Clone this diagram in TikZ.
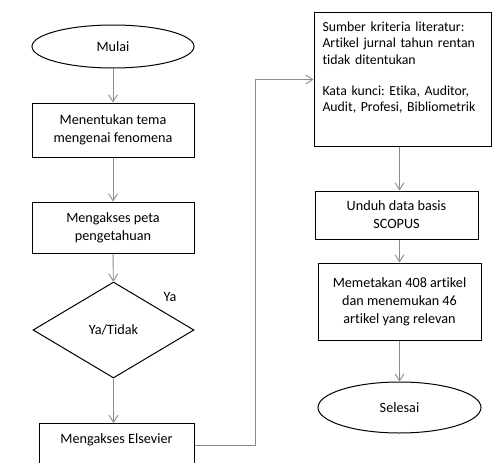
\documentclass[tikz,border=0pt]{standalone}
\usepackage{fontspec}
\setmainfont{Carlito}[Ligatures=NoCommon]
\usepackage{tikz}
\usetikzlibrary{shapes.geometric,arrows.meta}
\frenchspacing

\begin{document}
\begin{tikzpicture}[x=1pt, y=-1pt,
    every node/.style={font=\fontsize{14.2}{18}\selectfont},
    prosesbox/.style={draw=black, line width=1pt, rectangle, align=center, inner sep=0pt},
    terminal/.style={draw=black, line width=1pt, ellipse, inner sep=0pt},
    keputusan/.style={draw=black, line width=1pt, diamond, inner sep=0pt, aspect=1.68},
    line/.style={draw=black!45, line width=0.9pt, -{Straight Barb[length=7pt,width=9pt]}}]

      \clip (0, 0) rectangle (493, 463);

      \node[terminal, minimum width=162pt, minimum height=43pt] (mulai) at (113, 46.5) {Mulai};
      \node[prosesbox, minimum width=162pt, minimum height=54pt] (tema) at (113, 130) {Menentukan tema\\mengenai fenomena};
      \node[prosesbox, minimum width=162pt, minimum height=51pt] (peta) at (113, 227.5) {Mengakses peta\\pengetahuan};
      \node[keputusan, minimum width=161pt, minimum height=96pt] (pilih) at (113.5, 330) {Ya/Tidak};
      \node at (170, 297) (ya) {Ya};
      \node[prosesbox, anchor=north, minimum width=155pt, inner ysep=10pt] (elsevier) at (116.5, 423) {Mengakses Elsevier\rule[-30pt]{0pt}{1pt}};

      \node[prosesbox, anchor=north, text width=160pt, inner xsep=8.5pt, inner ysep=9pt, align=left,
            font=\fontsize{13.8}{16.5}\selectfont] (sumber) at (402.5, 12)
            {Sumber kriteria literatur:\\Artikel jurnal tahun rentan\\tidak ditentukan\\[14.5pt]
             Kata kunci: Etika, Auditor,\\\mbox{Audit, Profesi, Bibliometrik}\rule[-26pt]{0pt}{1pt}};
      \node[prosesbox, minimum width=163pt, minimum height=48pt] (unduh) at (396.5, 215) {Unduh data basis\\SCOPUS};
      \node[prosesbox, minimum width=163pt, minimum height=77pt] (petakan) at (399.5, 301.5) {Memetakan 408 artikel\\dan menemukan 46\\artikel yang relevan};
      \node[terminal, minimum width=163pt, minimum height=51pt] (selesai) at (399.5, 407.5) {Selesai};

      \draw[line] (mulai) -- (tema);
      \draw[line] (tema) -- (peta);
      \draw[line] (peta) -- (pilih);
      \draw[line] (pilih.south) -- (elsevier.north -| pilih.south);

      \coordinate (belok) at (255, 445);
      \draw[line] ([yshift=-22pt]elsevier.north east) -- (belok) |- (sumber.west);

      \draw[line] (sumber.south -| petakan) -- (unduh.north -| petakan);
      \draw[line] (unduh.south -| petakan) -- (petakan.north);
      \draw[line] (petakan) -- (selesai);
    \end{tikzpicture}
\end{document}
